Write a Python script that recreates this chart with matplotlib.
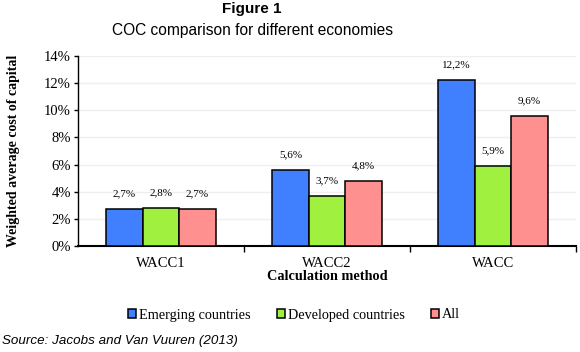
import matplotlib.pyplot as plt
import numpy as np

methods = ["WACC1", "WACC2", "WACC"]
series = ["Emerging countries", "Developed countries", "All"]
emerging = [2.7, 5.6, 12.2]
developed = [2.8, 3.7, 5.9]
all_ = [2.7, 4.8, 9.6]
colors = ["#4080ff", "#a0f040", "#ff9090"]
yticks = [0, 2, 4, 6, 8, 10, 12, 14]

serif = ["Liberation Serif", "DejaVu Serif"]
sans = ["Liberation Sans", "DejaVu Sans"]

fig = plt.figure(figsize=(5.8, 3.52), dpi=100)
ax = fig.add_axes([78/580, 1-246/352, 498/580, 190/352])

x = np.arange(len(methods))
w = 0.22
for i, (vals, name, c) in enumerate(zip([emerging, developed, all_], series, colors)):
    pos = x + (i - 1) * w
    ax.bar(pos, vals, w, color=c, edgecolor="black", linewidth=1.1, label=name, zorder=3)
    for p, v in zip(pos, vals):
        ax.text(p, v + 0.8, ("%.1f%%" % v).replace(".", ","), ha="center", va="bottom",
                fontsize=8, family=serif)

ax.set_xlim(-0.5, 2.5)
ax.set_ylim(0, 14)
ax.set_yticks(yticks)
ax.set_yticklabels(["%d%%" % t for t in yticks], family=serif, fontsize=10.5)
ax.set_xticks([0.5, 1.5, 2.5])
ax.set_xticklabels([])
ax.set_xticks(x, minor=True)
ax.set_xticklabels(methods, minor=True, family=serif, fontsize=10.5)
ax.tick_params(axis="x", which="minor", length=0, pad=8)
ax.tick_params(axis="x", which="major", length=4, direction="out", width=1)
ax.tick_params(axis="y", length=3, direction="out", width=1, pad=2)
ax.grid(axis="y", color="#efefef", linewidth=1, zorder=0)
for s in ["top", "right"]:
    ax.spines[s].set_visible(False)
ax.spines["left"].set_linewidth(1)
ax.spines["bottom"].set_linewidth(1.5)

ax.set_ylabel("Weighted average cost of capital", family=serif, fontweight="bold", fontsize=10)
ax.yaxis.set_label_coords(-0.117, 0.5)
ax.set_xlabel("Calculation method", family=serif, fontweight="bold", fontsize=10.3, labelpad=0)

fig.text(252/580, 1-9/352, "Figure 1", ha="center", va="center", family=sans, fontweight="bold", fontsize=11)
fig.text(252/580, 1-31/352, "COC comparison for different economies", ha="center", va="center",
         family=sans, fontsize=11.2)
fig.text(0.003, 1-341/352, "Source: Jacobs and Van Vuuren (2013)", ha="left", va="center",
         family=sans, style="italic", fontsize=9.6)

leg = fig.legend(loc="center", bbox_to_anchor=(294/580, 1-315/352), ncol=3, frameon=False,
                 handlelength=0.6, handleheight=0.6, handletextpad=0.2, columnspacing=1.8,
                 prop={"family": serif, "size": 10.3})

fig.savefig("out.png", dpi=100)
